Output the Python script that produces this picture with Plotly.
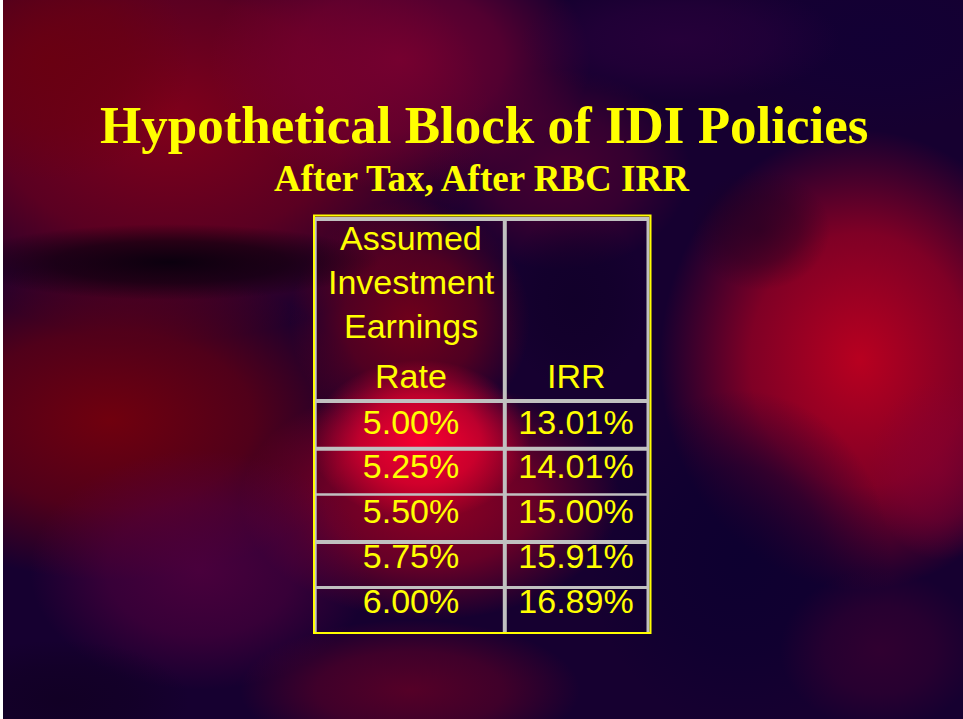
import base64
import plotly.graph_objects as go

# ---------------- data ----------------
title_text = "Hypothetical Block of IDI Policies"
subtitle_text = "After Tax, After RBC IRR"
header_lines = ["Assumed", "Investment", "Earnings", "Rate"]
irr_header = "IRR"
earnings_rate = [5.00, 5.25, 5.50, 5.75, 6.00]
irr_values = [13.01, 14.01, 15.00, 15.91, 16.89]

W, H = 963, 719
YELLOW = "#ffff00"
GREY = "#c0c0c0"

# ---------------- decorative background (SVG) ----------------
blobs = [
    # cx, cy, rx, ry, color, opacity
    (170, 120, 320, 220, "#80001a", 1.0),
    (50, 60, 140, 120, "#6a0010", 0.9),
    (400, 60, 190, 130, "#7c0030", 0.9),
    (560, 170, 130, 100, "#5a0030", 0.7),
    (110, 420, 260, 160, "#70000e", 1.0),
    (410, 320, 120, 120, "#780018", 0.9),
    (430, 500, 190, 120, "#a80020", 0.85),
    (420, 440, 110, 80, "#ff0030", 0.95),
    (860, 360, 200, 230, "#b80020", 1.0),
    (940, 470, 70, 90, "#8a0030", 0.6),
    (170, 262, 210, 38, "#04000c", 0.9),
    (740, 560, 150, 170, "#0c0030", 0.85),
    (880, 40, 170, 90, "#120035", 0.85),
    (680, 40, 160, 60, "#300040", 0.6),
    (200, 570, 170, 120, "#5a0040", 0.75),
    (410, 690, 170, 70, "#6a0024", 0.75),
    (760, 230, 70, 60, "#200020", 0.6),
    (880, 650, 100, 80, "#4a0030", 0.5),
    (60, 700, 130, 60, "#100020", 0.7),
    (575, 300, 70, 90, "#100028", 0.7),
]
defs = []
shapes_svg = []
for i, (cx, cy, rx, ry, col, op) in enumerate(blobs):
    defs.append(
        f'<radialGradient id="g{i}"><stop offset="0" stop-color="{col}" stop-opacity="{op}"/>'
        f'<stop offset="0.55" stop-color="{col}" stop-opacity="{op*0.65:.2f}"/>'
        f'<stop offset="1" stop-color="{col}" stop-opacity="0"/></radialGradient>'
    )
    shapes_svg.append(f'<ellipse cx="{cx}" cy="{cy}" rx="{rx}" ry="{ry}" fill="url(#g{i})"/>')
svg = (
    f'<svg xmlns="http://www.w3.org/2000/svg" width="{W}" height="{H}" viewBox="0 0 {W} {H}">'
    f'<defs>{"".join(defs)}</defs>'
    f'<rect width="{W}" height="{H}" fill="#160030"/>'
    + "".join(shapes_svg)
    + f'<rect x="0" y="0" width="3" height="{H}" fill="#ffffff"/>'
    + "</svg>"
)
bg_uri = "data:image/svg+xml;base64," + base64.b64encode(svg.encode()).decode()

fig = go.Figure()

# ---------------- table text ----------------
col_left = 411
col_right = 576
row_top = 425
row_step = 44.75
n = len(earnings_rate)
cell_font = dict(family="Liberation Sans, Arial", size=34, color=YELLOW)
fig.add_trace(go.Scatter(
    x=[col_left] * n, y=[row_top + row_step * i for i in range(n)],
    mode="text", text=[f"{v:.2f}%" for v in earnings_rate],
    textposition="middle center", textfont=cell_font,
    hoverinfo="skip", showlegend=False,
))
fig.add_trace(go.Scatter(
    x=[col_right] * n, y=[row_top + row_step * i for i in range(n)],
    mode="text", text=[f"{v:.2f}%" for v in irr_values],
    textposition="middle center", textfont=cell_font,
    hoverinfo="skip", showlegend=False,
))

header_y = [238, 282, 326, 375.5]
annotations = []
for line, yy in zip(header_lines, header_y):
    annotations.append(dict(x=col_left, y=yy, xref="x", yref="y", text=line, showarrow=False,
                            xanchor="center", yanchor="middle", font=cell_font))
annotations.append(dict(x=col_right, y=header_y[-1], xref="x", yref="y", text=irr_header, showarrow=False,
                        xanchor="center", yanchor="middle", font=cell_font))
annotations.append(dict(x=484, y=125, xref="x", yref="y", text=f"<b>{title_text}</b>", showarrow=False,
                        xanchor="center", yanchor="middle",
                        font=dict(family="Liberation Serif, Times New Roman", size=53, color=YELLOW)))
annotations.append(dict(x=482, y=178, xref="x", yref="y", text=f"<b>{subtitle_text}</b>", showarrow=False,
                        xanchor="center", yanchor="middle",
                        font=dict(family="Liberation Serif, Times New Roman", size=37, color=YELLOW)))

# ---------------- grid lines ----------------
shapes = []
def hline(y, x0, x1, w, c=GREY):
    shapes.append(dict(type="line", xref="x", yref="y", x0=x0, x1=x1, y0=y, y1=y, line=dict(color=c, width=w)))
def vline(x, y0, y1, w, c=GREY):
    shapes.append(dict(type="line", xref="x", yref="y", x0=x, x1=x, y0=y0, y1=y1, line=dict(color=c, width=w)))

vline(315.7, 217, 634, 2)
vline(504.8, 217, 634, 4)
vline(648, 217, 634, 3)
hline(219, 315, 649, 4)
hline(401, 315, 649, 4)
hline(448.7, 315, 649, 4)
hline(494.5, 315, 649, 2.5)
hline(542, 315, 649, 4)
hline(587.5, 315, 649, 3)
shapes.append(dict(type="rect", xref="x", yref="y", x0=314, x1=650.5, y0=215.5, y1=633,
                   line=dict(color=YELLOW, width=2), fillcolor="rgba(0,0,0,0)"))

fig.update_layout(
    width=W, height=H,
    margin=dict(l=0, r=0, t=0, b=0),
    paper_bgcolor="#160030", plot_bgcolor="rgba(0,0,0,0)",
    xaxis=dict(range=[0, W], visible=False, fixedrange=True),
    yaxis=dict(range=[H, 0], visible=False, fixedrange=True),
    images=[dict(source=bg_uri, xref="paper", yref="paper", x=0, y=1, sizex=1, sizey=1,
                 sizing="stretch", layer="below", xanchor="left", yanchor="top")],
    shapes=shapes,
    annotations=annotations,
    showlegend=False,
)

fig.write_html("out.html", config={"displayModeBar": False},
               post_script="document.body.style.margin='0';document.body.style.overflow='hidden';")
